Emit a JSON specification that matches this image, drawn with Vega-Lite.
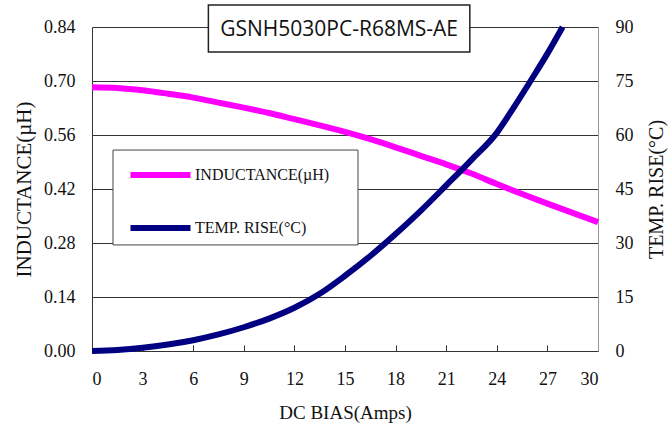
{
  "$schema": "https://vega.github.io/schema/vega-lite/v6.json",
  "width": 506,
  "height": 324,
  "autosize": {"type": "none"},
  "padding": {"left": 92, "top": 27, "right": 74, "bottom": 78},
  "background": "white",
  "config": {"view": {"stroke": null}, "font": "Liberation Serif"},
  "data": {"values": [
    {"series": "INDUCTANCE(µH)", "amps": 0, "value": 0.684},
    {"series": "INDUCTANCE(µH)", "amps": 1.5, "value": 0.682},
    {"series": "INDUCTANCE(µH)", "amps": 3, "value": 0.676},
    {"series": "INDUCTANCE(µH)", "amps": 4.5, "value": 0.667},
    {"series": "INDUCTANCE(µH)", "amps": 6, "value": 0.657},
    {"series": "INDUCTANCE(µH)", "amps": 7.5, "value": 0.644},
    {"series": "INDUCTANCE(µH)", "amps": 9, "value": 0.631},
    {"series": "INDUCTANCE(µH)", "amps": 10.5, "value": 0.617},
    {"series": "INDUCTANCE(µH)", "amps": 12, "value": 0.601},
    {"series": "INDUCTANCE(µH)", "amps": 13.5, "value": 0.585},
    {"series": "INDUCTANCE(µH)", "amps": 15, "value": 0.568},
    {"series": "INDUCTANCE(µH)", "amps": 16.5, "value": 0.549},
    {"series": "INDUCTANCE(µH)", "amps": 18, "value": 0.528},
    {"series": "INDUCTANCE(µH)", "amps": 19.5, "value": 0.506},
    {"series": "INDUCTANCE(µH)", "amps": 21, "value": 0.484},
    {"series": "INDUCTANCE(µH)", "amps": 22.5, "value": 0.46},
    {"series": "INDUCTANCE(µH)", "amps": 24, "value": 0.433},
    {"series": "INDUCTANCE(µH)", "amps": 25.5, "value": 0.407},
    {"series": "INDUCTANCE(µH)", "amps": 27, "value": 0.382},
    {"series": "INDUCTANCE(µH)", "amps": 28.5, "value": 0.358},
    {"series": "INDUCTANCE(µH)", "amps": 30, "value": 0.334},
    {"series": "TEMP. RISE(°C)", "amps": 0, "value": 0},
    {"series": "TEMP. RISE(°C)", "amps": 1.5, "value": 0.3},
    {"series": "TEMP. RISE(°C)", "amps": 3, "value": 0.9},
    {"series": "TEMP. RISE(°C)", "amps": 4.5, "value": 1.8},
    {"series": "TEMP. RISE(°C)", "amps": 6, "value": 3.0},
    {"series": "TEMP. RISE(°C)", "amps": 7.5, "value": 4.6},
    {"series": "TEMP. RISE(°C)", "amps": 9, "value": 6.6},
    {"series": "TEMP. RISE(°C)", "amps": 10.5, "value": 9.0},
    {"series": "TEMP. RISE(°C)", "amps": 12, "value": 12.0},
    {"series": "TEMP. RISE(°C)", "amps": 13.5, "value": 15.9},
    {"series": "TEMP. RISE(°C)", "amps": 15, "value": 20.9},
    {"series": "TEMP. RISE(°C)", "amps": 16.5, "value": 26.4},
    {"series": "TEMP. RISE(°C)", "amps": 18, "value": 32.5},
    {"series": "TEMP. RISE(°C)", "amps": 19.5, "value": 39.0},
    {"series": "TEMP. RISE(°C)", "amps": 21, "value": 46.0},
    {"series": "TEMP. RISE(°C)", "amps": 22.5, "value": 53.1},
    {"series": "TEMP. RISE(°C)", "amps": 24, "value": 60.6},
    {"series": "TEMP. RISE(°C)", "amps": 25, "value": 67.6},
    {"series": "TEMP. RISE(°C)", "amps": 26, "value": 75.0},
    {"series": "TEMP. RISE(°C)", "amps": 27, "value": 82.6},
    {"series": "TEMP. RISE(°C)", "amps": 27.9, "value": 90.0}
  ]},
  "layer": [
    {
      "data": {"values": [{}]},
      "mark": {"type": "rect", "fill": "white", "stroke": "#444", "strokeWidth": 1, "clip": false},
      "encoding": {
        "x": {"datum": 1.245, "type": "quantitative", "scale": {"domain": [0, 30], "nice": false}},
        "x2": {"datum": 15.77},
        "y": {"datum": 0.521, "type": "quantitative", "scale": {"domain": [0, 0.84], "nice": false}, "axis": null},
        "y2": {"datum": 0.275}
      }
    },
    {
      "transform": [{"filter": "datum.series === 'INDUCTANCE(µH)'"}],
      "mark": {"type": "line", "strokeWidth": 6, "interpolate": "monotone"},
      "encoding": {
        "x": {"field": "amps", "type": "quantitative",
          "scale": {"domain": [0, 30], "nice": false},
          "axis": {"title": "DC BIAS(Amps)", "values": [0,3,6,9,12,15,18,21,24,27,30],
            "grid": false, "tickSize": -6, "tickColor": "#333", "domainColor": "#333",
            "labelFont": "Liberation Serif", "labelFontSize": 18, "labelColor": "#111", "labelPadding": 25,
            "titleFont": "Liberation Serif", "titleFontSize": 19, "titleFontWeight": "normal", "titleColor": "#111", "titlePadding": 15}},
        "y": {"field": "value", "type": "quantitative",
          "scale": {"domain": [0, 0.84], "nice": false},
          "axis": {"title": "INDUCTANCE(µH)", "values": [0,0.14,0.28,0.42,0.56,0.7,0.84], "format": ".2f",
            "grid": true, "gridColor": "#333", "ticks": false, "domainColor": "#333",
            "labelFont": "Liberation Serif", "labelFontSize": 18, "labelColor": "#111", "labelPadding": 17,
            "titleFont": "Liberation Serif", "titleFontSize": 21, "titleFontWeight": "normal", "titleColor": "#111", "titlePadding": 9}},
        "color": {"field": "series", "type": "nominal",
          "scale": {"domain": ["INDUCTANCE(µH)", "TEMP. RISE(°C)"], "range": ["#ff00ff", "#000080"]},
          "legend": {"title": null, "orient": "none", "legendX": 35.5, "legendY": 115,
            "padding": 0,
            "symbolType": "stroke", "symbolSize": 3600, "symbolStrokeWidth": 6,
            "labelFont": "Liberation Serif", "labelFontSize": 16, "labelColor": "#111", "labelOffset": 1.5,
            "rowPadding": 8}}
      }
    },
    {
      "transform": [{"filter": "datum.series === 'TEMP. RISE(°C)'"}],
      "mark": {"type": "line", "strokeWidth": 6, "interpolate": "monotone"},
      "encoding": {
        "x": {"field": "amps", "type": "quantitative"},
        "y": {"field": "value", "type": "quantitative",
          "scale": {"domain": [0, 90], "nice": false},
          "axis": {"orient": "right", "title": "TEMP. RISE(°C)", "values": [0,15,30,45,60,75,90],
            "grid": false, "ticks": false, "domainColor": "#999",
            "labelFont": "Liberation Serif", "labelFontSize": 18, "labelColor": "#111", "labelPadding": 17,
            "titleFont": "Liberation Serif", "titleFontSize": 20, "titleFontWeight": "normal", "titleColor": "#111",
            "titleAngle": 270, "titlePadding": 33}},
        "color": {"field": "series", "type": "nominal"}
      }
    },
    {
      "data": {"values": [{}]},
      "mark": {"type": "rect", "fill": "white", "stroke": "#222", "strokeWidth": 1.5, "clip": false},
      "encoding": {
        "x": {"datum": 6.9, "type": "quantitative"},
        "x2": {"datum": 22.4},
        "y": {"datum": 0.897, "type": "quantitative", "scale": {"domain": [0, 0.84], "nice": false}, "axis": null},
        "y2": {"datum": 0.775}
      }
    },
    {
      "data": {"values": [{}]},
      "mark": {"type": "text", "font": "Open Sans", "fontSize": 21, "color": "#111", "align": "center", "baseline": "middle", "clip": false},
      "encoding": {
        "x": {"datum": 14.65, "type": "quantitative"},
        "y": {"datum": 0.833, "type": "quantitative", "scale": {"domain": [0, 0.84], "nice": false}, "axis": null},
        "text": {"value": "GSNH5030PC-R68MS-AE"}
      }
    }
  ],
  "resolve": {"scale": {"y": "independent"}}
}
